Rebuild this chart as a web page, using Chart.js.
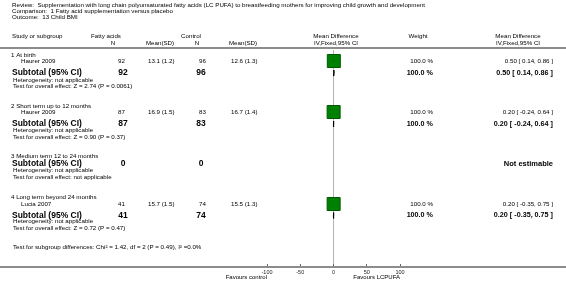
<!DOCTYPE html>
<html><head><meta charset="utf-8">
<script src="https://cdn.jsdelivr.net/npm/chart.js@4.4.1/dist/chart.umd.min.js"></script>
<style>html,body{margin:0;padding:0;background:#fff}#wrap{width:566px;height:289px}</style>
</head><body><div id="wrap"><canvas id="c" width="566" height="289"></canvas></div>
<script>
// ---- data ----
const groups = ['1 At birth', '2 Short term up to 12 months', '3 Medium term 12 to 24 months', '4 Long term beyond 24 months'];
const studies = ['Haurer 2009', 'Haurer 2009', null, 'Lucia 2007'];
const expN = [92, 87, 0, 41];
const expMean = [13.1, 16.9, null, 15.7];
const expSD = [1.2, 1.5, null, 1.5];
const ctlN = [96, 83, 0, 74];
const ctlMean = [12.6, 16.7, null, 15.5];
const ctlSD = [1.3, 1.4, null, 1.3];
const md = [0.50, 0.20, null, 0.20];
const ciLow = [0.14, -0.24, null, -0.35];
const ciHigh = [0.86, 0.64, null, 0.75];
const weights = [100.0, 100.0, null, 100.0];
const heterogeneity = ['not applicable', 'not applicable', 'not applicable', 'not applicable'];
const overallTests = ['Z = 2.74 (P = 0.0061)', 'Z = 0.90 (P = 0.37)', 'not applicable', 'Z = 0.72 (P = 0.47)'];
const xTicks = [-100, -50, 0, 50, 100];
const subgroupTest = 'Test for subgroup differences: Chi\u00b2 = 1.42, df = 2 (P = 0.49), I\u00b2 =0.0%';

// ---- layout (row positions on the vertical scale) ----
const rowHeader = [55, 106, 156.5, 197];
const rowStudy  = [61, 112, null, 204];
const rowSub    = [73, 124, 164, 215.5];
const rowHet    = [80, 130.5, 170, 221.5];
const rowTest   = [86, 137, 177, 228];
const rowSubgroupTest = 247;

const FONT = 'Liberation Sans, Arial, sans-serif';
const f = (s, b) => (b ? 'bold ' : '') + s + 'px ' + FONT;
const fmt2 = v => v.toFixed(2);
const ciText = i => fmt2(md[i]) + ' [ ' + fmt2(ciLow[i]) + ', ' + fmt2(ciHigh[i]) + ' ]';

const datasets = [];
// squares
const sq = [];
md.forEach((v, i) => { if (v !== null && rowStudy[i] !== null) sq.push({x: v, y: rowStudy[i]}); });
datasets.push({data: sq, pointStyle: 'rect', pointRadius: 9.2, backgroundColor: '#008000', borderColor: '#005a00', borderWidth: 1, order: 2});
// CI lines and diamonds
md.forEach((v, i) => {
  if (v === null) return;
  datasets.push({data: [{x: ciLow[i], y: rowStudy[i]}, {x: ciHigh[i], y: rowStudy[i]}], showLine: true, borderColor: '#000', borderWidth: 1, pointRadius: 0, order: 1});
  const y = rowSub[i];
  datasets.push({data: [{x: ciLow[i], y: y}, {x: v, y: y - 3}, {x: ciHigh[i], y: y}, {x: v, y: y + 3}, {x: ciLow[i], y: y}],
    showLine: true, borderColor: '#000', backgroundColor: '#000', fill: true, borderWidth: 1, pointRadius: 0, order: 1});
});

const textPlugin = {
  id: 'texts',
  afterDraw(chart) {
    const ctx = chart.ctx;
    const ys = chart.scales.y;
    const xs = chart.scales.x;
    const Y = v => ys.getPixelForValue(v);
    const t = (s, x, y, align, font, color) => {
      ctx.font = font || f(6.2);
      ctx.fillStyle = color || '#000';
      ctx.textAlign = align || 'left';
      ctx.textBaseline = 'middle';
      ctx.fillText(s, x, y);
    };
    ctx.save();
    // title block
    t('Review:  Supplementation with long chain polyunsaturated fatty acids (LC PUFA) to breastfeeding mothers for improving child growth and development', 12, 5);
    t('Comparison:  1 Fatty acid supplementation versus placebo', 12, 11);
    t('Outcome:  13 Child BMI', 12, 17);
    // column headers
    t('Study or subgroup', 12, 36);
    t('Fatty acids', 106, 36, 'center');
    t('Control', 191, 36, 'center');
    t('Mean Difference', 336, 36, 'center');
    t('Weight', 418, 36, 'center');
    t('Mean Difference', 518, 36, 'center');
    t('N', 113, 43, 'center');
    t('Mean(SD)', 160, 43, 'center');
    t('N', 197, 43, 'center');
    t('Mean(SD)', 243, 43, 'center');
    t('IV,Fixed,95% CI', 336, 43, 'center');
    t('IV,Fixed,95% CI', 518, 43, 'center');
    // header rule
    ctx.fillStyle = '#8c8c8c';
    ctx.fillRect(0, 47, 566, 2);
    // rows
    groups.forEach((g, i) => {
      t(g, 11, Y(rowHeader[i]));
      if (studies[i]) {
        const y = Y(rowStudy[i]);
        t(studies[i], 21, y);
        t(String(expN[i]), 125, y, 'right');
        t(expMean[i].toFixed(1) + ' (' + expSD[i].toFixed(1) + ')', 148, y);
        t(String(ctlN[i]), 206, y, 'right');
        t(ctlMean[i].toFixed(1) + ' (' + ctlSD[i].toFixed(1) + ')', 231, y);
        t(weights[i].toFixed(1) + ' %', 433, y, 'right');
        t(ciText(i), 553, y, 'right');
      }
      const ys2 = Y(rowSub[i]);
      t('Subtotal (95% CI)', 12, ys2, 'left', f(8.5, true));
      t(String(expN[i]), 123, ys2, 'center', f(8.5, true));
      t(String(ctlN[i]), 201, ys2, 'center', f(8.5, true));
      if (md[i] !== null) {
        t(weights[i].toFixed(1) + ' %', 433, ys2, 'right', f(7.2, true));
        t(ciText(i), 553, ys2, 'right', f(7.2, true));
      } else {
        t('Not estimable', 553, ys2, 'right', f(7.5, true));
      }
      t('Heterogeneity: ' + heterogeneity[i], 13, Y(rowHet[i]));
      t('Test for overall effect: ' + overallTests[i], 13, Y(rowTest[i]));
    });
    t(subgroupTest, 13, Y(rowSubgroupTest));
    // axis rule (full width) at the tip of tick marks
    const axY = chart.chartArea.bottom + 3;
    ctx.fillStyle = '#8c8c8c';
    ctx.fillRect(0, axY - 1, 566, 2);
    t('Favours control', xs.getPixelForValue(-100), 277, 'right', f(6));
    t('Favours LCPUFA', xs.getPixelForValue(100), 277, 'right', f(6));
    ctx.restore();
  }
};

new Chart(document.getElementById('c'), {
  type: 'scatter',
  data: {datasets},
  options: {
    responsive: false,
    devicePixelRatio: 1,
    animation: false,
    events: [],
    layout: {padding: {left: 267, right: 166, top: 50, bottom: 0}},
    plugins: {legend: {display: false}, tooltip: {enabled: false}},
    scales: {
      x: {
        type: 'linear', min: -100, max: 100,
        afterBuildTicks: s => { s.ticks = xTicks.map(v => ({value: v})); },
        afterFit: s => { s.height = 25; },
        border: {display: false},
        grid: {
          drawOnChartArea: true, drawTicks: true, tickLength: 3, tickColor: '#666', tickWidth: 1,
          color: c => (c.tick && c.tick.value === 0) ? '#b4b4b4' : 'rgba(0,0,0,0)', lineWidth: 1
        },
        ticks: {font: {family: FONT, size: 5.5}, color: '#222', padding: 2, maxRotation: 0, autoSkip: false,
          callback: v => String(v)}
      },
      y: {type: 'linear', display: false, min: 50, max: 264, reverse: true}
    }
  },
  plugins: [textPlugin]
});
</script></body></html>
